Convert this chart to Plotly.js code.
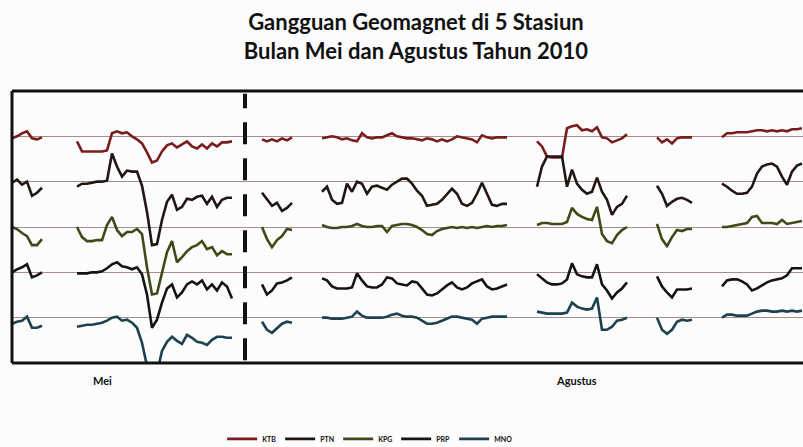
<!DOCTYPE html>
<html>
<head>
<meta charset="utf-8">
<script src="https://cdn.plot.ly/plotly-3.0.1.min.js"></script>
<style>html,body{margin:0;padding:0;background:#fcfcfc;}#chart{width:803px;height:447px;}</style>
</head>
<body>
<div id="chart"></div>
<script>
const N = null;
// station names (legend order)
const stations = ['KTB', 'PTN', 'KPG', 'PRP', 'MNO'];
// deviation of each station (nT-like units, 45 units between station baselines), sampled uniformly; null = no data
const KTB = [-2,0,3,5,-2,-3,-1, N,N,N,N,N,N,
 -5,-15,-15,-15,-15,-15,-14,3,5,3,4,0,-3,-7,-16,-26,-24,-15,-9,-7,-11,-8,-5,-10,-12,-8,-12,-7,-10,-6,-6,-5, N,N,N,N,N,
 -3,-5,-3,-5,-2,-4,-1, N,N,N,N,N,
 -2,-1,0,-1,-3,-2,-4,-5,3,-1,-2,-1,-1,1,3,0,-1,-2,-2,-3,-4,-2,-3,-5,-3,-5,-3,0,-1,-2,-3,-6,1,-1,-2,-1,-1,-1, N,N,N,N,N,
 -5,-10,-20,-21,-21,-21,8,10,11,6,7,5,9,-1,-2,-6,-4,-2,2, N,N,N,N,N,
 -1,-6,-3,-7,-2,-1,-1,-1, N,N,N,N,N,
 -1,3,3,4,4,4,5,6,6,5,6,5,6,5,7,7,8];
const PTN = [-1,2,-3,0,-14,-11,-6, N,N,N,N,N,N,
 -5,-2,-2,-1,0,0,1,28,15,5,11,10,10,-4,-30,-63,-62,-38,-20,-13,-28,-25,-17,-18,-15,-14,-22,-15,-25,-18,-16,-16, N,N,N,N,N,
 -11,-18,-24,-21,-29,-26,-21, N,N,N,N,N,
 -10,-5,-18,-22,-21,-2,-10,0,-2,-12,-5,-4,-6,-8,-3,0,3,3,-2,-9,-14,-24,-23,-22,-18,-12,-7,-12,-22,-24,-21,-12,-1,-12,-23,-24,-22,-22, N,N,N,N,N,
 -5,15,25,25,25,25,-5,12,-2,-8,-12,-10,4,-10,-18,-33,-25,-22,-14, N,N,N,N,N,
 -4,-12,-24,-20,-17,-16,-18,-21, N,N,N,N,N,
 -2,-5,-9,-12,-12,-11,-5,8,15,17,18,15,5,-3,10,16,18];
const KPG = [0,-2,-6,-9,-18,-18,-12, N,N,N,N,N,N,
 0,-10,-14,-14,-13,-13,2,10,-3,-9,-5,-5,-2,-7,-40,-67,-66,-45,-25,-14,-35,-30,-24,-20,-18,-14,-22,-20,-28,-24,-27,-27, N,N,N,N,N,
 0,-12,-20,-13,-9,-2,-3, N,N,N,N,N,
 2,0,-1,-1,0,0,1,3,1,0,0,1,1,-5,1,2,3,3,2,0,-3,-7,-8,-4,-2,-1,0,-1,0,-1,0,-1,0,1,0,1,1,2, N,N,N,N,N,
 2,4,4,3,3,3,5,19,13,10,8,7,20,-7,-14,-16,-8,-3,0, N,N,N,N,N,
 3,-12,-19,-10,-3,-4,-2,-2, N,N,N,N,N,
 0,0,1,2,3,4,10,11,4,4,4,3,7,3,4,5,6];
const PRP = [0,3,5,8,-5,-3,0, N,N,N,N,N,N,
 -1,-1,-1,0,0,1,4,8,10,6,5,3,5,-2,-22,-55,-47,-30,-16,-12,-25,-20,-12,-9,-12,-8,-17,-12,-18,-10,-14,-26, N,N,N,N,N,
 -12,-22,-18,-11,-10,-8,-5, N,N,N,N,N,
 -6,-8,-14,-16,-16,-16,-15,-1,-8,-14,-15,-15,-12,-5,-6,-11,-12,-13,-9,-10,-16,-22,-23,-21,-17,-13,-10,-15,-17,-15,-11,-9,-7,-14,-17,-16,-14,-12, N,N,N,N,N,
 -2,-6,-10,-12,-12,-11,-7,9,-2,-4,-5,-5,8,-12,-18,-26,-20,-16,-10, N,N,N,N,N,
 -4,-14,-20,-25,-17,-17,-17,-16, N,N,N,N,N,
 -14,-8,-7,-7,-9,-12,-18,-16,-13,-10,-8,-7,-6,-3,4,4,4];
const MNO = [-6,-4,-3,1,-10,-10,-8, N,N,N,N,N,N,
 -9,-8,-7,-7,-6,-5,-3,0,1,-3,-2,-5,-10,-25,-48,-62,-55,-33,-24,-19,-23,-26,-17,-20,-24,-25,-27,-22,-19,-19,-20,-20, N,N,N,N,N,
 -4,-12,-15,-10,-6,-4,-5, N,N,N,N,N,
 0,0,-1,-1,-1,0,1,6,2,0,0,0,0,1,3,4,2,1,1,0,-3,-6,-6,-5,-3,-1,1,1,0,-1,-2,-6,-1,0,1,1,1,1, N,N,N,N,N,
 6,5,4,4,4,4,5,15,11,9,8,9,20,-12,-12,-9,-3,-2,0, N,N,N,N,N,
 0,-12,-16,-12,-4,-2,-3,-2, N,N,N,N,N,
 0,3,3,2,2,2,4,6,7,7,6,6,7,6,7,6,7];
const seriesValues = [KTB, PTN, KPG, PRP, MNO];
// baseline of each station in the stacked plot
const stationBaseline = [225, 180, 135, 90, 45];
// month labels and the boundary between the two months (sample index)
const monthLabels = ['Mei', 'Agustus'];
const monthLabelPos = [18, 112.8];
const monthBoundary = 46.6;

const colors = ['#7a1c1c', '#221614', '#3f4a18', '#141414', '#1c4250'];
const sampleIndex = KTB.map((_, i) => i);

const traces = stations.map((name, k) => ({
  type: 'scatter', mode: 'lines', name: name,
  x: sampleIndex,
  y: seriesValues[k].map(v => v === null ? null : stationBaseline[k] + v),
  connectgaps: false,
  line: {color: colors[k], width: 2.6},
  hoverinfo: 'skip'
}));

const layout = {
  width: 803, height: 447,
  margin: {l: 12, r: 0, t: 91, b: 84, autoexpand: false},
  paper_bgcolor: '#fcfcfc', plot_bgcolor: '#fcfcfc',
  font: {family: 'Lato, "Liberation Sans", sans-serif', color: '#111'},
  title: {
    text: 'Gangguan Geomagnet di 5 Stasiun<br>Bulan Mei dan Agustus Tahun 2010',
    font: {family: 'Lato', size: 22, weight: 700, color: '#111'},
    x: 0.518, xanchor: 'center', y: 0.933, yanchor: 'top', yref: 'container'
  },
  xaxis: {range: [0, 158.2], showgrid: false, zeroline: false, showticklabels: false, showline: false, ticks: '', fixedrange: true},
  yaxis: {range: [0, 270], tickvals: stationBaseline, showgrid: true, gridcolor: '#a48e8e', gridwidth: 1,
          showticklabels: false, zeroline: false, showline: false, ticks: '', fixedrange: true},
  showlegend: true,
  legend: {orientation: 'h', x: 0.449, xanchor: 'center', y: -0.279, yanchor: 'middle',
           font: {size: 7, weight: 700, color: '#111'}, itemwidth: 30, entrywidth: 13, bgcolor: 'rgba(0,0,0,0)'},
  shapes: [
    {type: 'line', xref: 'paper', yref: 'paper', x0: 0, x1: 1, y0: 1, y1: 1, line: {color: '#111', width: 3}},
    {type: 'line', xref: 'paper', yref: 'paper', x0: 0, x1: 1, y0: 0, y1: 0, line: {color: '#111', width: 3}},
    {type: 'line', xref: 'paper', yref: 'paper', x0: 0, x1: 0, y0: 0, y1: 1, line: {color: '#111', width: 3}},
    {type: 'line', xref: 'x', yref: 'paper', x0: monthBoundary, x1: monthBoundary, y0: 0.01, y1: 0.99,
     line: {color: '#111', width: 4, dash: '22px,14px'}}
  ],
  annotations: monthLabels.map((t, i) => ({
    text: t, x: monthLabelPos[i], xref: 'x', y: -0.066, yref: 'paper',
    xanchor: 'center', yanchor: 'middle', showarrow: false,
    font: {size: 11, weight: 700, color: '#111'}
  }))
};

Plotly.newPlot('chart', traces, layout, {displayModeBar: false, staticPlot: true});
</script>
</body>
</html>
